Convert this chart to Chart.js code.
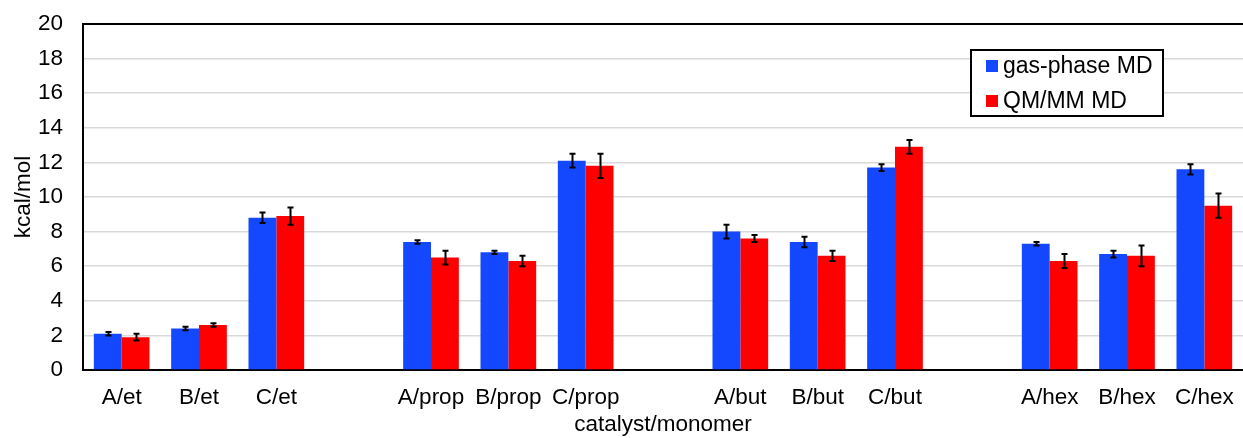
<!DOCTYPE html>
<html>
<head>
<meta charset="utf-8">
<script src="https://cdn.jsdelivr.net/npm/chart.js@4/dist/chart.umd.min.js"></script>
<style>
  html, body { margin: 0; padding: 0; background: #fff; }
  #wrap { width: 1243px; height: 438px; position: relative; }
</style>
</head>
<body>
<div id="wrap"><canvas id="c" width="1243" height="438"></canvas></div>
<script>
// Catalyst/monomer combinations; empty labels separate the monomer groups
const categories = ['A/et', 'B/et', 'C/et', '', 'A/prop', 'B/prop', 'C/prop', '',
                    'A/but', 'B/but', 'C/but', '', 'A/hex', 'B/hex', 'C/hex'];

// Free energy values (kcal/mol) and their uncertainties
const gasPhase    = [2.1, 2.4, 8.8, null, 7.4, 6.8, 12.1, null, 8.0, 7.4, 11.7, null, 7.3, 6.7, 11.6];
const gasPhaseErr = [0.1, 0.1, 0.3, null, 0.1, 0.1, 0.4, null, 0.4, 0.3, 0.2, null, 0.1, 0.2, 0.3];
const qmmm        = [1.9, 2.6, 8.9, null, 6.5, 6.3, 11.8, null, 7.6, 6.6, 12.9, null, 6.3, 6.6, 9.5];
const qmmmErr     = [0.2, 0.1, 0.5, null, 0.4, 0.3, 0.7, null, 0.2, 0.3, 0.4, null, 0.4, 0.6, 0.7];

const seriesNames = ['gas-phase MD', 'QM/MM MD'];
const yTicks = [0, 2, 4, 6, 8, 10, 12, 14, 16, 18, 20];

const FONT = "'Liberation Sans', Arial, sans-serif";
const FONT_SIZE = 22.5;
const BLUE = '#1448FF';
const RED = '#FF0000';

// Draws symmetric error bars on top of every bar
const errorBars = {
  id: 'errorBars',
  afterDatasetsDraw(chart) {
    const ctx = chart.ctx;
    const y = chart.scales.y;
    ctx.save();
    ctx.strokeStyle = '#000';
    ctx.lineWidth = 2;
    chart.data.datasets.forEach((ds, di) => {
      const meta = chart.getDatasetMeta(di);
      meta.data.forEach((bar, i) => {
        const v = ds.data[i], e = ds.errors[i];
        if (v == null || e == null) return;
        const x = Math.round(bar.x) + 0.5;
        const yHi = y.getPixelForValue(v + e);
        const yLo = y.getPixelForValue(v - e);
        const cap = 3;
        ctx.beginPath();
        ctx.moveTo(x, yHi); ctx.lineTo(x, yLo);
        ctx.moveTo(x - cap, yHi); ctx.lineTo(x + cap, yHi);
        ctx.moveTo(x - cap, yLo); ctx.lineTo(x + cap, yLo);
        ctx.stroke();
      });
    });
    ctx.restore();
  }
};

// Boxed legend placed inside the plot area, top right
const boxedLegend = {
  id: 'boxedLegend',
  afterDraw(chart) {
    const ctx = chart.ctx;
    const area = chart.chartArea;
    const boxW = 192, boxH = 66;
    const bx = area.right - 272, by = area.top + 26;
    ctx.save();
    ctx.fillStyle = '#fff';
    ctx.fillRect(bx, by, boxW, boxH);
    ctx.strokeStyle = '#000';
    ctx.lineWidth = 2;
    ctx.strokeRect(bx, by, boxW, boxH);
    ctx.font = '23px ' + FONT;
    ctx.textBaseline = 'middle';
    chart.data.datasets.forEach((ds, i) => {
      const cy = by + 16 + i * 35;
      ctx.fillStyle = ds.backgroundColor;
      ctx.fillRect(bx + 15, cy - 6, 12, 12);
      ctx.fillStyle = '#000';
      ctx.fillText(ds.label, bx + 32, cy + 1);
    });
    ctx.restore();
  }
};

new Chart(document.getElementById('c'), {
  type: 'bar',
  data: {
    labels: categories,
    datasets: [
      { label: seriesNames[0], data: gasPhase, errors: gasPhaseErr, backgroundColor: BLUE },
      { label: seriesNames[1], data: qmmm, errors: qmmmErr, backgroundColor: RED }
    ]
  },
  options: {
    responsive: false,
    animation: false,
    devicePixelRatio: 1,
    layout: { padding: { top: 24, right: 0, left: 0, bottom: 0 } },
    datasets: { bar: { categoryPercentage: 0.72, barPercentage: 1.0, borderWidth: 0 } },
    plugins: {
      legend: { display: false },
      tooltip: { enabled: false }
    },
    scales: {
      x: {
        grid: { display: false, drawTicks: false },
        border: { display: true, color: '#000', width: 2 },
        ticks: { color: '#000', font: { family: FONT, size: FONT_SIZE }, padding: 14, maxRotation: 0, autoSkip: false },
        title: { display: true, text: 'catalyst/monomer', color: '#000', font: { family: FONT, size: FONT_SIZE }, padding: 0 },
        afterFit(scale) {
          scale.height = 68;
          scale.paddingLeft = 0; scale.paddingRight = 0;
          scale.paddingTop = 0; scale.paddingBottom = 0;
        }
      },
      y: {
        min: 0, max: 20,
        afterBuildTicks(scale) { scale.ticks = yTicks.map(v => ({ value: v })); },
        grid: {
          drawTicks: false,
          color: c => (c.tick && c.tick.value === 20 ? '#000' : '#d9d9d9'),
          lineWidth: c => (c.tick && c.tick.value === 20 ? 2 : 1.5)
        },
        border: { display: true, color: '#000', width: 2 },
        ticks: { color: '#000', font: { family: FONT, size: FONT_SIZE }, padding: 20 },
        title: { display: true, text: 'kcal/mol', color: '#000', font: { family: FONT, size: FONT_SIZE }, padding: { top: 10, bottom: 0 } },
        afterFit(scale) {
          scale.width = 83;
          scale.paddingLeft = 0; scale.paddingRight = 0;
          scale.paddingTop = 0; scale.paddingBottom = 0;
        }
      }
    }
  },
  plugins: [errorBars, boxedLegend]
});
</script>
</body>
</html>
